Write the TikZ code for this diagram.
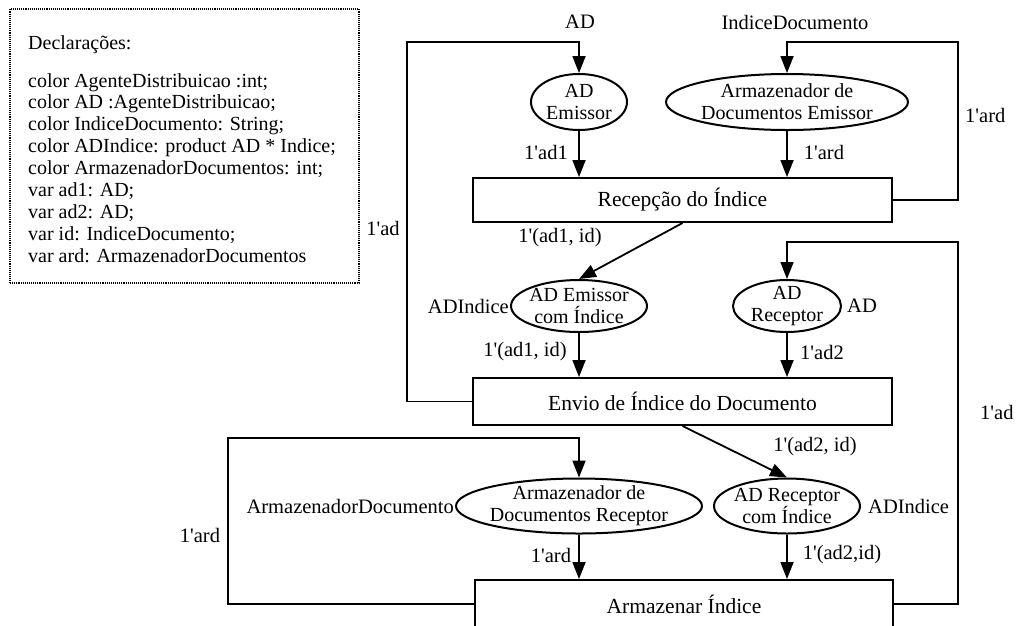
\documentclass[tikz,border=0pt]{standalone}
\usepackage{fontspec}
\setmainfont{Liberation Serif}
\usetikzlibrary{arrows.meta,shapes.geometric}
\newcommand\tq{\textquotesingle}
\begin{document}
\begin{tikzpicture}[x=1pt,y=-1pt,
  every node/.style={font=\fontsize{20.5}{22}\selectfont, inner sep=0pt},
  place/.style={draw, ellipse, line width=2pt},
  ptext/.style={align=center, font=\fontsize{20}{22}\selectfont},
  trans/.style={draw, rectangle, line width=2pt, minimum width=419pt, minimum height=44pt,
    font=\fontsize{21.5}{24}\selectfont},
  arc/.style={line width=1.8pt, -{Triangle[length=17pt,width=13pt]}},
  decl/.style={anchor=base west, font=\fontsize{20}{22}\selectfont}
]
\useasboundingbox (0,0) rectangle (1020,625);

% declarations
\node[draw, densely dotted, line width=1.1pt, minimum width=349pt, minimum height=274pt] (declbox) at (184.5,146) {};
\node[decl] (dtitle) at (28,49) {Declarações:};
\foreach \t [count=\i from 0] in {
  {color AgenteDistribuicao :int;},
  {color AD :AgenteDistribuicao;},
  {color IndiceDocumento: String;},
  {color ADIndice: product AD * Indice;},
  {color ArmazenadorDocumentos: int;},
  {var ad1: AD;},
  {var ad2: AD;},
  {var id: IndiceDocumento;},
  {var ard: ArmazenadorDocumentos}}
  \node[decl] (d\i) at (28,87+21.9*\i) {\t};

% places
\node[place, minimum width=96pt, minimum height=56pt] (ade) at (579,102) {};
\node[ptext] (adet) at (ade) {AD\\Emissor};
\node[place, minimum width=242pt, minimum height=56pt] (ade2) at (787,102) {};
\node[ptext] (ade2t) at (ade2) {Armazenador de\\Documentos Emissor};
\node[place, minimum width=136pt, minimum height=52pt] (adei) at (579,306) {};
\node[ptext] (adeit) at (adei) {AD Emissor\\com Índice};
\node[place, minimum width=108pt, minimum height=52pt] (adr) at (787,306) {};
\node[ptext] (adrt) at (adr) {AD\\Receptor};
\node[place, minimum width=246pt, minimum height=55pt] (arr) at (579,506) {};
\node[ptext] (arrt) at (arr) {Armazenador de\\Documentos Receptor};
\node[place, minimum width=146pt, minimum height=55pt] (adri) at (787,506) {};
\node[ptext] (adrit) at (adri) {AD Receptor\\com Índice};

% transitions
\node[trans] (rec) at (682.5,200) {Recepção do Índice};
\node[trans, minimum height=47pt] (envio) at (682.5,401.5) {Envio de Índice do Documento};
\node[trans, minimum width=418pt, minimum height=48pt] (arm) at (684,604) {Armazenar Índice};

% loop corners
\coordinate (lA) at (407,42);
\coordinate (rA) at (958,42);
\coordinate (rB) at (958,242);
\coordinate (lB) at (228,438);

% arcs
\draw[arc] (envio.west) -| (lA) -| (ade.north);
\draw[arc] (rec.east) -| (rA) -| (ade2.north);
\draw[arc] (ade.south) -- (ade.south |- rec.north);
\draw[arc] (ade2.south) -- (ade2.south |- rec.north);
\draw[arc] (rec.south) -- (adei.north);
\draw[arc] (adei.south) -- (adei.south |- envio.north);
\draw[arc] (adr.south) -- (adr.south |- envio.north);
\draw[arc] (arm.east) -| (rB) -| (adr.north);
\draw[arc] (envio.south) -- (adri.north);
\draw[arc] (arm.west) -| (lB) -| (arr.north);
\draw[arc] (arr.south) -- (arr.south |- arm.north);
\draw[arc] (adri.south) -- (adri.south |- arm.north);

% colour sets
\node (cAD) at (580,22) {AD};
\node (cID) at (795,22) {IndiceDocumento};
\node[anchor=east] (cADI1) at ([xshift=-1pt]adei.west) {ADIndice};
\node[anchor=west] (cAD2) at ([xshift=5pt]adr.east) {AD};
\node[anchor=east] (cARD) at ([xshift=-1pt]arr.west) {ArmazenadorDocumento};
\node[anchor=west] (cADI2) at ([xshift=7pt]adri.east) {ADIndice};

% arc inscriptions
\node (i1) at (383,228) {1\tq ad};
\node[anchor=west] (i2) at (965,115) {1\tq ard};
\node (i3) at (546,152) {1\tq ad1};
\node (i4) at (824,152) {1\tq ard};
\node (i5) at (560,238) {1\tq(ad1, id)};
\node (i6) at (525,352) {1\tq(ad1, id)};
\node (i7) at (822,352) {1\tq ad2};
\node[anchor=west] (i8) at (980,412) {1\tq ad};
\node (i9) at (815,447) {1\tq(ad2, id)};
\node (i10) at (200,535) {1\tq ard};
\node (i11) at (551,555) {1\tq ard};
\node (i12) at (842,555) {1\tq(ad2,id)};
\end{tikzpicture}
\end{document}
